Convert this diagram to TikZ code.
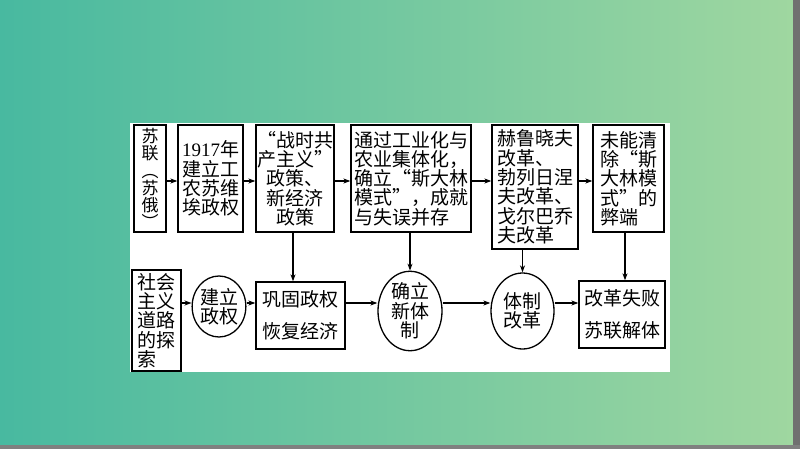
\documentclass[tikz,border=0pt]{standalone}
\usepackage{fontspec}
\setmainfont{Noto Sans CJK SC}
\newfontfamily\digitfont{Liberation Serif}
\usetikzlibrary{shapes.geometric,arrows.meta}
\definecolor{bgL}{RGB}{72,185,160}
\definecolor{bgR}{RGB}{160,215,160}
\definecolor{edgegray}{RGB}{112,112,112}
\newcommand\cnfont{\fontsize{19}{19.3}\selectfont}
\begin{document}
\begin{tikzpicture}[x=1pt,y=-1pt,
  box/.style={draw, line width=1.3pt, fill=white, inner sep=0pt, align=left, font=\cnfont},
  ell/.style={draw, ellipse, line width=1.3pt, fill=white, inner sep=0pt, align=center, font=\cnfont},
  arr/.style={-{Stealth[length=7pt,width=5pt]}, line width=1.2pt}]
\useasboundingbox (0,0) rectangle (800,449);
\shade[left color=bgL, right color=bgR] (0,0) rectangle (800,449);
\fill[edgegray] (793,0) rectangle (800,449);
\fill[gray] (0,445) rectangle (800,449);
\fill[white] (130,123) rectangle (670,372);
\coordinate (rowA) at (0,181);
\coordinate (rowB) at (0,303);
\coordinate (colC) at (293,0);
\coordinate (colF) at (625,0);
% top row
\node[box, minimum width=32pt, minimum height=107pt, align=center, font=\fontsize{17}{17.2}\selectfont] (A) at (150,178.5) {苏\\联\\︵\\苏\\俄\\︶};
\node[box, minimum width=65pt, minimum height=107pt] (B) at (210.5,178.5) {{\digitfont 1917}年\\建立工\\农苏维\\埃政权};
\node[box, minimum width=78pt, minimum height=107pt, align=center] (C) at (295,178.5) {“战时共\\产主义”\\政策、\\新经济\\政策};
\node[box, minimum width=120pt, minimum height=107pt] (D) at (411,178.5) {通过工业化与\\农业集体化，\\确立“斯大林\\模式”，成就\\与失误并存};
\node[box, minimum width=86pt, minimum height=124pt] (E) at (535,187) {赫鲁晓夫\\改革、\\勃列日涅\\夫改革、\\戈尔巴乔\\夫改革};
\node[box, minimum width=71pt, minimum height=107pt] (F) at (628.5,178.5) {未能清\\除“斯\\大林模\\式”的\\弊端};
% bottom row
\node[box, minimum width=49pt, minimum height=101pt] (G) at (156.5,320.5) {社会\\主义\\道路\\的探\\索};
\node[ell, minimum width=52pt, minimum height=61pt] (H) at (219,306.5) {建立\\政权};
\node[box, minimum width=89pt, minimum height=67pt] (I) at (300.5,315.5) {巩固政权\\[13pt]恢复经济};
\node[ell, minimum width=64pt, minimum height=76pt] (J) at (410,311) {确立\\新体\\制};
\node[ell, minimum width=63pt, minimum height=76pt] (K) at (522.5,311) {体制\\改革};
\node[box, minimum width=86pt, minimum height=67pt] (L) at (622,314.5) {改革失败\\[13pt]苏联解体};
% top arrows
\draw[arr] (A.east |- rowA) -- (B.west |- rowA);
\draw[arr] (B.east |- rowA) -- (C.west |- rowA);
\draw[arr] (C.east |- rowA) -- (D.west |- rowA);
\draw[arr] (D.east |- rowA) -- (E.west |- rowA);
\draw[arr] (E.east |- rowA) -- (F.west |- rowA);
% vertical arrows
\draw[arr] (C.south -| colC) -- (I.north -| colC);
\draw[arr] (D.south -| J.north) -- (J.north);
\draw[arr] (E.south -| K.north) -- (K.north);
\draw[arr] (F.south -| colF) -- (L.north -| colF);
% bottom arrows
\draw[arr] (G.east |- rowB) -- (H.west |- rowB);
\draw[arr] (H.east |- rowB) -- (I.west |- rowB);
\draw[arr] (I.east |- rowB) -- (J.west |- rowB);
\draw[arr] (J.east |- rowB) -- (K.west |- rowB);
\draw[arr] (K.east |- rowB) -- (L.west |- rowB);
\end{tikzpicture}
\end{document}
